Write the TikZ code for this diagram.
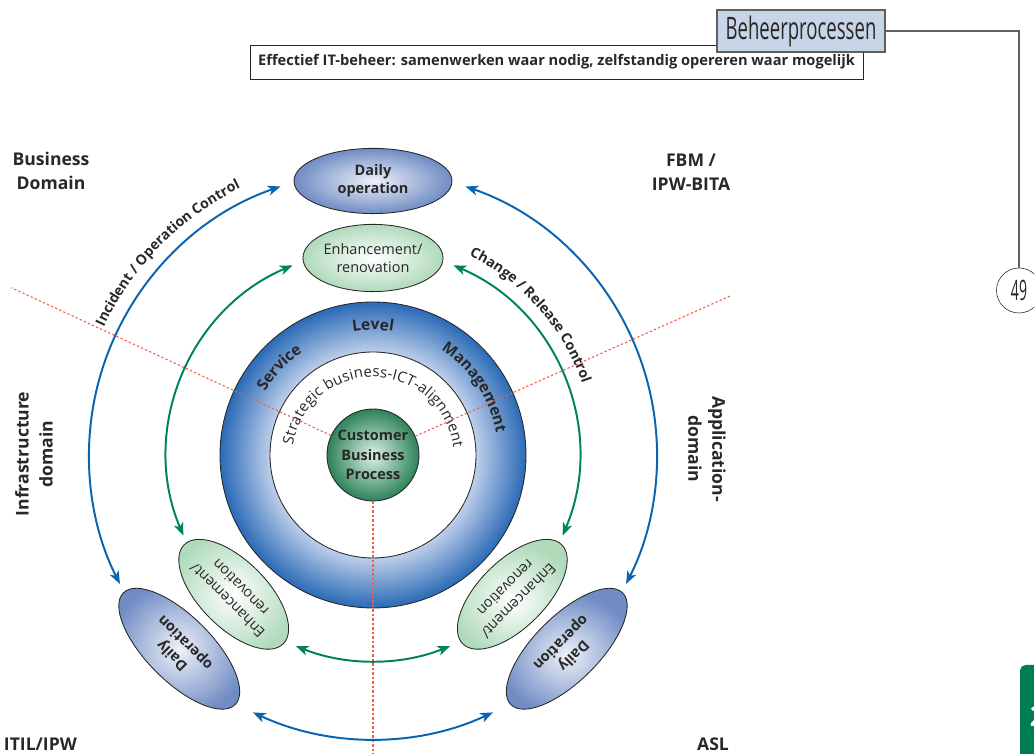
\documentclass[tikz,border=0pt]{standalone}
\usepackage{fontspec}
\setmainfont{Open Sans}
\usepackage{tikz}
\usetikzlibrary{arrows.meta,positioning,shapes.geometric,decorations.text}
\definecolor{arcblue}{RGB}{10,100,175}
\definecolor{arcgreen}{RGB}{0,130,90}
\definecolor{ovalblue}{RGB}{112,140,196}
\definecolor{ovalgreen}{RGB}{176,218,186}
\definecolor{ringdark}{RGB}{42,106,182}
\definecolor{ringlight}{RGB}{190,207,234}
\definecolor{cbpdark}{RGB}{45,130,90}
\definecolor{cbplight}{RGB}{222,242,228}
\definecolor{dotred}{RGB}{240,95,75}
\definecolor{hdrfill}{RGB}{200,213,232}
\definecolor{hdrgray}{RGB}{95,95,95}
\definecolor{txtdark}{RGB}{40,40,40}
\definecolor{tabgreen}{RGB}{0,125,85}
\pgfdeclareradialshading{slmring}{\pgfpoint{0bp}{0bp}}{color(0bp)=(ringlight); color(16.8bp)=(ringlight); color(25bp)=(ringdark); color(50bp)=(ringdark)}

\begin{document}
\begin{tikzpicture}[
  x=0.025cm, y=0.025cm,
  every node/.style={text=txtdark},
  daily/.style={ellipse, draw=black!85, line width=0.6pt, inner color=ovalblue!12!white, outer color=ovalblue, minimum width=3.95cm, minimum height=1.63cm, inner sep=0pt, align=center, font=\bfseries\fontsize{10.3}{13}\selectfont},
  enh/.style={ellipse, draw=black!85, line width=0.6pt, inner color=white, outer color=ovalgreen, minimum width=3.5cm, minimum height=1.68cm, inner sep=0pt, align=center, font=\fontsize{10.3}{13}\selectfont},
  cbp/.style={circle, draw=black!85, line width=0.6pt, inner color=cbplight, outer color=cbpdark, minimum size=2.3cm, inner sep=0pt, align=center, font=\bfseries\fontsize{10.3}{14}\selectfont},
  domlabel/.style={align=center, font=\bfseries\fontsize{12.5}{17}\selectfont},
  bluearc/.style={{Stealth[length=9pt,width=7pt,inset=2.5pt]}-{Stealth[length=9pt,width=7pt,inset=2.5pt]}, line width=1.4pt, arcblue},
  greenarc/.style={{Stealth[length=9pt,width=7pt,inset=2.5pt]}-{Stealth[length=9pt,width=7pt,inset=2.5pt]}, line width=1.4pt, arcgreen},
  redline/.style={dotred, line width=0.8pt, dash pattern=on 1.6pt off 1.6pt},
  arctext/.style={decorate, decoration={text along path, text color=txtdark, #1}},
]
  \useasboundingbox (0,0) rectangle (1034,754);

  % Header
  \node[draw=black!85, fill=white, minimum width=15.33cm, minimum height=0.85cm, font=\bfseries\fontsize{10.4}{12}\selectfont] (ttl) at (556.5,692) {Effectief IT-beheer: samenwerken waar nodig, zelfstandig opereren waar mogelijk};
  \node[draw=hdrgray, line width=0.8pt, fill=hdrfill, minimum width=4.2cm, minimum height=1.05cm, font=\fontsize{22}{22}\selectfont] (hdr) at (801,723) {\scalebox{0.6}[1]{Beheerprocessen}};
  \node[circle, draw=black!85, fill=white, minimum size=1.125cm, inner sep=0pt, font=\fontsize{20}{20}\selectfont] (pg) at (1019,463.5) {\scalebox{0.5}[1]{49}};
  \draw[hdrgray, line width=0.8pt] (hdr.east) -| (pg.north);

  % Chapter tab
  \fill[tabgreen, rounded corners=4pt] (1020,-10) rectangle (1060,89);
  \node[text=white, font=\bfseries\fontsize{20}{20}\selectfont] (tab) at (1038,38) {2};

  % Domains
  \node[domlabel] (biz) at (51,583) {Business\\Domain};
  \node[domlabel] (fbm) at (691,582) {FBM /\\IPW-BITA};
  \node[domlabel, rotate=90] (infra) at (34,300) {Infrastructure\\domain};
  \node[domlabel, rotate=-90] (appl) at (707,305) {Application-\\domain};
  \node[domlabel, anchor=west] (itil) at (-1,9.5) {ITIL/IPW};
  \node[domlabel] (asl) at (713,9.5) {ASL};

  % Service level ring
  \coordinate (C) at (373,299);
  \coordinate (Cs) at (373,296);
  \shadedraw[shading=slmring, draw=black!85, line width=0.6pt] (C) circle[radius=153];
  \filldraw[fill=white, draw=black!85, line width=0.6pt] (C) circle[radius=103];
  \path[arctext={text align=center, text={|\bfseries\fontsize{11}{12}\selectfont|Service}}] ([shift={(160:125)}]C) arc[start angle=160, end angle=114, radius=125];
  \path[arctext={text align=center, text={|\bfseries\fontsize{11}{12}\selectfont|Level}}] ([shift={(106:125)}]C) arc[start angle=106, end angle=74, radius=125];
  \path[arctext={text align=center, text={|\bfseries\fontsize{11}{12}\selectfont|Management}}] ([shift={(64:125)}]C) arc[start angle=64, end angle=3, radius=125];
  \path[arctext={text align=fit to path, text={|\fontsize{10.6}{12}\selectfont|Strategic business-ICT-alignment}}] ([shift={(171:81)}]Cs) arc[start angle=171, end angle=7, radius=81];

  % Core and boundaries
  \node[cbp] (cbp) at (C) {Customer\\Business\\Process};
  \draw[redline] (cbp.155.2) -- ++(155.2:352);
  \draw[redline] (cbp.24) -- ++(24:345);
  \draw[redline] (cbp.south) -- ++(0,-260);

  % Ovals
  \node[daily] (dtop) at ([shift={(90:274)}]C) {Daily\\operation};
  \node[enh] (etop) at ([shift={(90:197)}]C) {Enhancement/\\renovation};
  \node[daily, rotate=135] (dleft) at ([shift={(225:274)}]C) {Daily\\operation};
  \node[enh, rotate=135] (eleft) at ([shift={(225:197)}]C) {Enhancement/\\renovation};
  \node[daily, rotate=225] (dright) at ([shift={(315:274)}]C) {Daily\\operation};
  \node[enh, rotate=225] (eright) at ([shift={(315:197)}]C) {Enhancement/\\renovation};

  % Operation control
  \draw[bluearc] ([shift={(109:284)}]C) arc[start angle=109, end angle=207, radius=284];
  \draw[bluearc] ([shift={(71:284)}]C) arc[start angle=71, end angle=-27, radius=284];
  \draw[bluearc] ([shift={(245:284)}]C) arc[start angle=245, end angle=295, radius=284];

  % Change control
  \draw[greenarc] ([shift={(113:206)}]C) arc[start angle=113, end angle=203, radius=206];
  \draw[greenarc] ([shift={(67:206)}]C) arc[start angle=67, end angle=-23, radius=206];
  \draw[greenarc] ([shift={(248:206)}]C) arc[start angle=248, end angle=292, radius=206];

  % Arc labels
  \path[arctext={text align=center, text={|\bfseries\fontsize{10}{12}\selectfont|Incident / Operation Control}}] ([shift={(165:298)}]C) arc[start angle=165, end angle=106, radius=298];
  \path[arctext={text align=center, text={|\bfseries\fontsize{10}{12}\selectfont|Change / Release Control}}] ([shift={(72:221)}]C) arc[start angle=72, end angle=11, radius=221];
\end{tikzpicture}
\end{document}
